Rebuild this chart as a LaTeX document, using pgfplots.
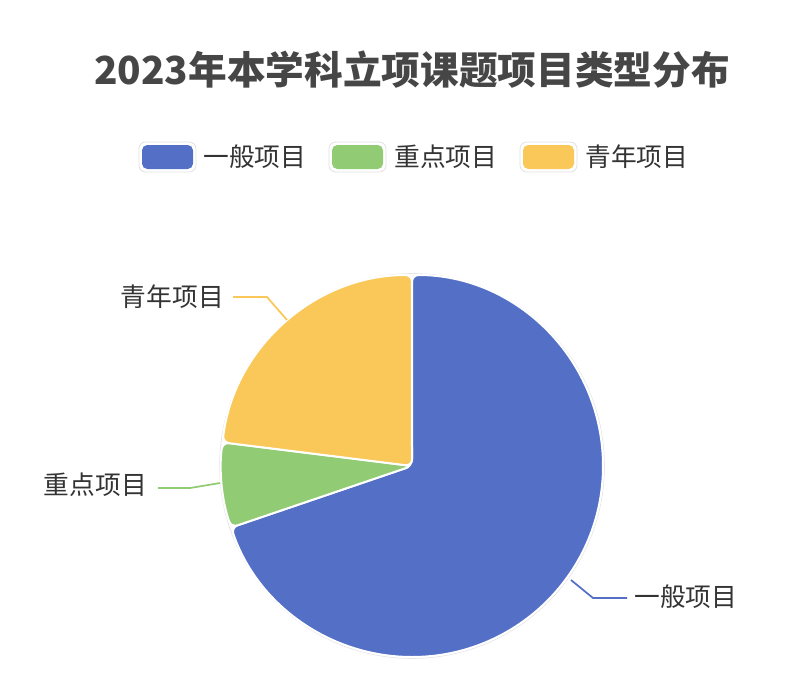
\documentclass[border=0pt]{standalone}
\usepackage{fontspec}
\setmainfont{Noto Sans CJK SC}
\usepackage{pgfplots}
\usepackage{pgfplotstable}
\pgfplotsset{compat=1.18}
\definecolor{cBlue}{HTML}{5470C6}
\definecolor{cGreen}{HTML}{91CC75}
\definecolor{cYellow}{HTML}{FAC858}
\definecolor{cTitle}{HTML}{464646}
\definecolor{cText}{HTML}{333333}

\pgfplotstableread{
name value
一般项目 97
重点项目 10
青年项目 32
}\piedata

\begin{document}
\begin{tikzpicture}
\pgfplotstablegetelem{0}{value}\of\piedata \let\va\pgfplotsretval
\pgfplotstablegetelem{1}{value}\of\piedata \let\vb\pgfplotsretval
\pgfplotstablegetelem{2}{value}\of\piedata \let\vc\pgfplotsretval
\pgfmathsetmacro\tot{\va+\vb+\vc}
\pgfmathsetmacro\aA{90-360*(\va/\tot)}
\pgfmathsetmacro\aB{\aA-360*(\vb/\tot)}
\pgfmathsetmacro\aC{\aB-360*(\vc/\tot)}
\def\R{143.25pt}
\def\lf{\fontsize{19.3}{23}\selectfont}
\begin{axis}[x=0.75pt, y=0.75pt, xmin=0, xmax=804, ymin=0, ymax=686,
  y dir=reverse, hide axis, clip=false]
\path (axis cs:0,0) rectangle (axis cs:804,686);
% faint outline around pie
\draw[black!10, line width=0.6pt] (axis cs:412,466) circle[radius=144.3pt];
% pie slices
\fill[cBlue, draw=white, line width=1.5pt, rounded corners=5pt]
  (axis cs:412,466) -- ++(90:\R) arc[start angle=90, end angle=\aA, radius=\R] -- cycle;
\fill[cGreen, draw=white, line width=1.5pt, rounded corners=5pt]
  (axis cs:412,466) -- ++(\aA:\R) arc[start angle=\aA, end angle=\aB, radius=\R] -- cycle;
\fill[cYellow, draw=white, line width=1.5pt, rounded corners=5pt]
  (axis cs:412,466) -- ++(\aB:\R) arc[start angle=\aB, end angle=\aC, radius=\R] -- cycle;
% leader lines
\draw[cBlue, line width=1.3pt] (axis cs:571,580) -- (axis cs:593,598) -- (axis cs:627,598);
\draw[cGreen, line width=1.3pt] (axis cs:220,483) -- (axis cs:190,488) -- (axis cs:158,488);
\draw[cYellow, line width=1.3pt] (axis cs:287,320) -- (axis cs:267,297) -- (axis cs:233,297);
% labels
\node[anchor=west, inner sep=0pt, text=cText, font=\lf] at (axis cs:634,597) {一般项目};
\node[anchor=east, inner sep=0pt, text=cText, font=\lf] at (axis cs:147,485) {重点项目};
\node[anchor=east, inner sep=0pt, text=cText, font=\lf] at (axis cs:224,297) {青年项目};
% title
\node[text=cTitle, font=\bfseries\fontsize{29}{34}\selectfont] at (axis cs:412,70) {2023年本学科立项课题项目类型分布};
% legend
\draw[black!12, fill=white, rounded corners=5pt, line width=0.6pt] (axis cs:139,142) rectangle (axis cs:196,172);
\fill[cBlue, rounded corners=4pt] (axis cs:142,145) rectangle (axis cs:193,169);
\node[anchor=west, inner sep=0pt, text=cText, font=\lf] at (axis cs:203,157) {一般项目};
\draw[black!12, fill=white, rounded corners=5pt, line width=0.6pt] (axis cs:329,142) rectangle (axis cs:386,172);
\fill[cGreen, rounded corners=4pt] (axis cs:332,145) rectangle (axis cs:383,169);
\node[anchor=west, inner sep=0pt, text=cText, font=\lf] at (axis cs:394,157) {重点项目};
\draw[black!12, fill=white, rounded corners=5pt, line width=0.6pt] (axis cs:520,142) rectangle (axis cs:577,172);
\fill[cYellow, rounded corners=4pt] (axis cs:523,145) rectangle (axis cs:574,169);
\node[anchor=west, inner sep=0pt, text=cText, font=\lf] at (axis cs:585,157) {青年项目};
\end{axis}
\end{tikzpicture}
\end{document}
